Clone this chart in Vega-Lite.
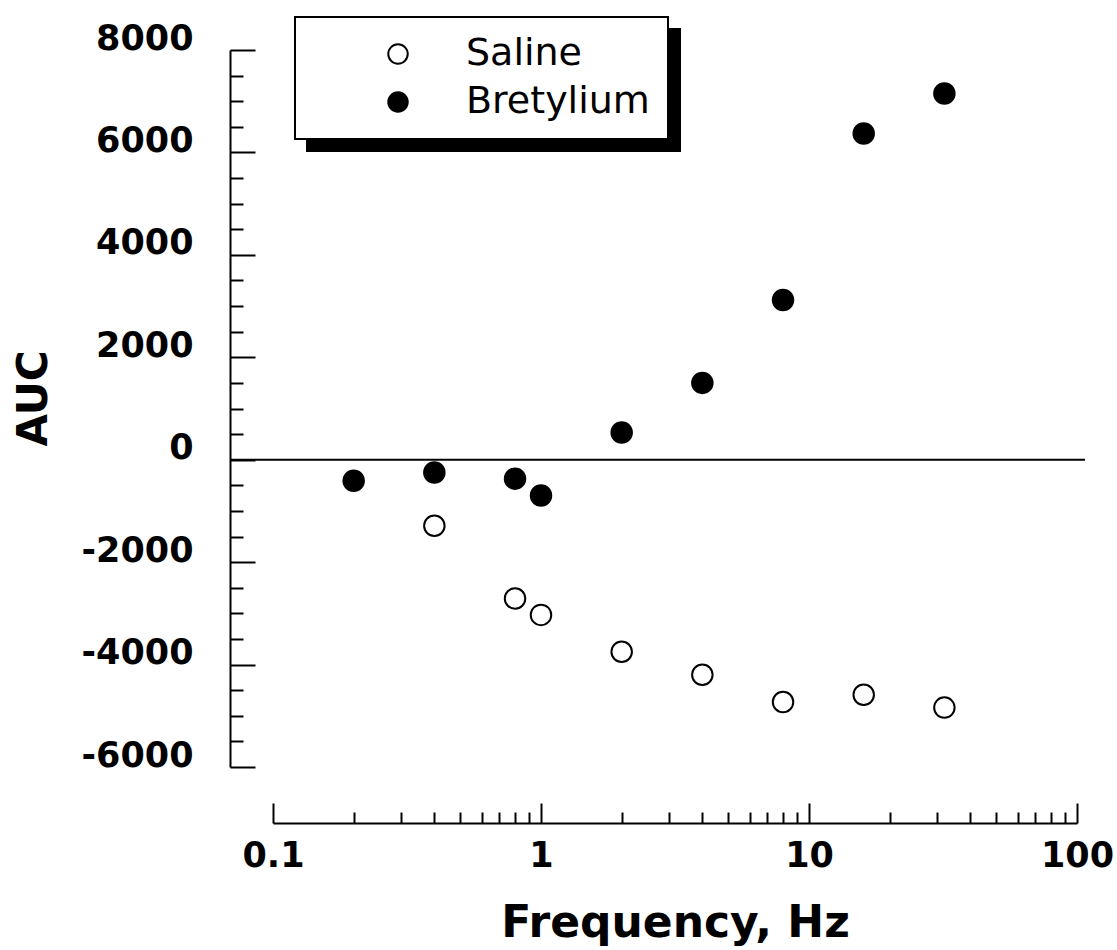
{
  "$schema": "https://vega.github.io/schema/vega-lite/v6.json",
  "width": 855,
  "height": 717,
  "autosize": {"type": "none"},
  "padding": {"left": 230, "top": 50, "right": 32, "bottom": 183},
  "background": "white",
  "config": {
    "view": {"stroke": null},
    "axis": {
      "grid": false,
      "domainColor": "black",
      "tickColor": "black",
      "labelColor": "black",
      "titleColor": "black",
      "domainWidth": 2,
      "tickWidth": 2,
      "labelFont": "DejaVu Sans",
      "labelFontWeight": "bold",
      "labelFontSize": 35,
      "titleFont": "DejaVu Sans",
      "titleFontWeight": "bold",
      "titleFontSize": 42
    },
    "legend": {
      "labelFont": "DejaVu Sans",
      "labelFontSize": 38,
      "labelFontWeight": "normal",
      "labelColor": "black",
      "symbolSize": 380,
      "symbolType": "circle",
      "symbolStrokeWidth": 2,
      "symbolStrokeColor": "black",
      "padding": 18,
      "symbolOffset": 66,
      "labelOffset": 49,
      "rowPadding": 10,
      "labelLimit": 400,
      "strokeWidth": 2
    }
  },
  "data": {
    "values": [
      {"freq": 0.4, "auc": -1290, "series": "Saline"},
      {"freq": 0.8, "auc": -2710, "series": "Saline"},
      {"freq": 1, "auc": -3030, "series": "Saline"},
      {"freq": 2, "auc": -3750, "series": "Saline"},
      {"freq": 4, "auc": -4200, "series": "Saline"},
      {"freq": 8, "auc": -4730, "series": "Saline"},
      {"freq": 16, "auc": -4590, "series": "Saline"},
      {"freq": 32, "auc": -4840, "series": "Saline"},
      {"freq": 0.2, "auc": -410, "series": "Bretylium"},
      {"freq": 0.4, "auc": -250, "series": "Bretylium"},
      {"freq": 0.8, "auc": -370, "series": "Bretylium"},
      {"freq": 1, "auc": -700, "series": "Bretylium"},
      {"freq": 2, "auc": 530, "series": "Bretylium"},
      {"freq": 4, "auc": 1500, "series": "Bretylium"},
      {"freq": 8, "auc": 3120, "series": "Bretylium"},
      {"freq": 16, "auc": 6370, "series": "Bretylium"},
      {"freq": 32, "auc": 7150, "series": "Bretylium"}
    ]
  },
  "layer": [
    {
      "data": {"values": [{"level": 0}]},
      "mark": {"type": "rule", "color": "black", "strokeWidth": 2},
      "encoding": {
        "y": {
          "field": "level",
          "type": "quantitative",
          "scale": {"domain": [-6000, 8000], "nice": false, "zero": false},
          "axis": {
            "orient": "left",
            "values": [-5500, -5000, -4500, -3500, -3000, -2500, -1500, -1000, -500, 500, 1000, 1500, 2500, 3000, 3500, 4500, 5000, 5500, 6500, 7000, 7500],
            "tickSize": -13,
            "labels": false,
            "domain": false,
            "title": null
          }
        }
      }
    },
    {
      "transform": [{"filter": "datum.series === 'Saline'"}],
      "mark": {"type": "point", "filled": true, "size": 420, "stroke": "black", "strokeWidth": 2, "opacity": 1},
      "encoding": {
        "x": {
          "field": "freq",
          "type": "quantitative",
          "scale": {"type": "log", "domain": [0.1, 100], "range": [43, 847], "nice": false},
          "axis": {
            "orient": "bottom",
            "offset": 56,
            "values": [0.1, 1, 10, 100],
            "format": "~g",
            "tickSize": -20,
            "labelPadding": 35,
            "labelFlush": false,
            "labelOverlap": false,
            "title": "Frequency, Hz",
            "titleFontSize": 44,
            "titlePadding": 28
          }
        },
        "y": {
          "field": "auc",
          "type": "quantitative",
          "scale": {"domain": [-6000, 8000], "nice": false, "zero": false},
          "axis": {
            "orient": "left",
            "values": [-6000, -4000, -2000, 0, 2000, 4000, 6000, 8000],
            "labelExpr": "'' + datum.value",
            "tickSize": -25,
            "labelPadding": 62,
            "labelOffset": -12,
            "title": "AUC",
            "titleY": 348,
            "titlePadding": 26
          }
        },
        "fill": {
          "field": "series",
          "type": "nominal",
          "scale": {"domain": ["Saline", "Bretylium"], "range": ["white", "black"]},
          "legend": {
            "orient": "none",
            "legendX": 65,
            "legendY": -33,
            "title": null,
            "values": ["Saline", "Bretylium"],
            "fillColor": "white",
            "strokeColor": "black",
            "symbolOpacity": 1,
            "zindex": 2
          }
        },
        "shape": {
          "field": "series",
          "type": "nominal",
          "scale": {"domain": ["Bretylium", "Saline"], "range": ["circle", "circle"]},
          "legend": {
            "orient": "none",
            "legendX": 77,
            "legendY": -21,
            "title": null,
            "values": ["Saline", "Bretylium"],
            "labelExpr": "'\u00a0'",
            "labelOffset": 233,
            "fillColor": "black",
            "strokeColor": "black",
            "symbolOpacity": 0,
            "labelColor": "black",
            "zindex": 1
          }
        }
      }
    },
    {
      "transform": [{"filter": "datum.series === 'Bretylium'"}],
      "mark": {"type": "point", "filled": true, "size": 420, "stroke": "black", "strokeWidth": 2, "opacity": 1},
      "encoding": {
        "x": {
          "field": "freq",
          "type": "quantitative",
          "scale": {"type": "log", "domain": [0.1, 100], "range": [43, 847], "nice": false},
          "axis": {
            "orient": "bottom",
            "offset": 56,
            "values": [0.2, 0.3, 0.4, 0.5, 0.6, 0.7, 0.8, 0.9, 2, 3, 4, 5, 6, 7, 8, 9, 20, 30, 40, 50, 60, 70, 80, 90],
            "tickSize": -11,
            "labels": false,
            "domain": false,
            "title": null
          }
        },
        "y": {
          "field": "auc",
          "type": "quantitative",
          "scale": {"domain": [-6000, 8000], "nice": false, "zero": false},
          "axis": null
        },
        "fill": {
          "field": "series",
          "type": "nominal",
          "scale": {"domain": ["Saline", "Bretylium"], "range": ["white", "black"]},
          "legend": {
            "orient": "none",
            "legendX": 65,
            "legendY": -33,
            "title": null,
            "values": ["Saline", "Bretylium"],
            "fillColor": "white",
            "strokeColor": "black",
            "symbolOpacity": 1,
            "zindex": 2
          }
        },
        "shape": {
          "field": "series",
          "type": "nominal",
          "scale": {"domain": ["Bretylium", "Saline"], "range": ["circle", "circle"]},
          "legend": {
            "orient": "none",
            "legendX": 77,
            "legendY": -21,
            "title": null,
            "values": ["Saline", "Bretylium"],
            "labelExpr": "'\u00a0'",
            "labelOffset": 233,
            "fillColor": "black",
            "strokeColor": "black",
            "symbolOpacity": 0,
            "labelColor": "black",
            "zindex": 1
          }
        }
      }
    }
  ],
  "resolve": {"axis": {"x": "independent", "y": "independent"}}
}
